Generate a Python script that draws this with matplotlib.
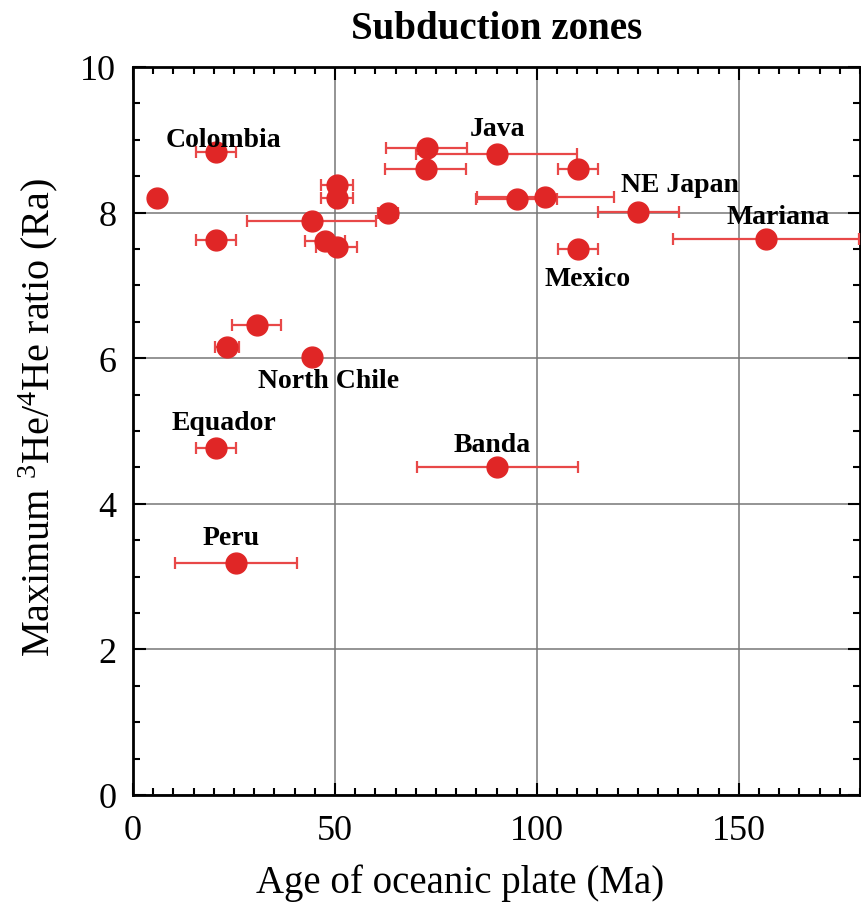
import matplotlib
matplotlib.use("Agg")
import matplotlib.pyplot as plt
from matplotlib.ticker import MultipleLocator

plt.rcParams["font.family"] = ["Liberation Serif", "DejaVu Serif"]
plt.rcParams["mathtext.fontset"] = "custom"
plt.rcParams["mathtext.rm"] = "Liberation Serif"
plt.rcParams["mathtext.it"] = "Liberation Serif:italic"

# plate age (Ma), its uncertainty, and max 3He/4He (Ra)
age = [5.9, 20.5, 20.5, 50.5, 50.5, 44.2, 47.5, 50.4, 63.1, 72.7, 72.5,
       90.0, 110.2, 95.0, 102.1, 125.1, 110.2, 156.8, 30.6, 23.3, 44.4,
       20.5, 90.2, 25.5]
age_err = [0, 5, 5, 4, 4, 16, 5, 5, 2.5, 10, 10,
           20, 5, 10, 17, 10, 5, 23, 6, 3, 0,
           5, 20, 15]
he_ratio = [8.20, 8.83, 7.62, 8.38, 8.20, 7.88, 7.61, 7.53, 8.00, 8.89, 8.60,
            8.80, 8.60, 8.19, 8.22, 8.01, 7.50, 7.64, 6.46, 6.15, 6.02,
            4.77, 4.50, 3.18]

zone_names = ["Colombia", "Java", "NE Japan", "Mariana", "Mexico",
              "North Chile", "Equador", "Banda", "Peru"]
zone_x = [22.3, 90.3, 135.4, 159.7, 112.6, 48.3, 22.5, 88.9, 24.3]
zone_y = [9.00, 9.15, 8.38, 7.94, 7.09, 5.69, 5.11, 4.81, 3.54]

fig = plt.figure(figsize=(8.62, 9.04), dpi=100)
ax = fig.add_axes([0.1543, 0.1195, 0.8434, 0.8053])

ax.errorbar(age, he_ratio, xerr=age_err, fmt="none", ecolor="#e84848",
            elinewidth=1.6, capsize=4, capthick=1.6, zorder=3)
ax.plot(age, he_ratio, "o", color="#e02626", markersize=15, zorder=4)

for name, x, y in zip(zone_names, zone_x, zone_y):
    ax.text(x, y, name, ha="center", va="center", fontsize=20,
            fontweight="bold", zorder=5)

ax.set_xlim(0, 180)
ax.set_ylim(0, 10)
ax.xaxis.set_major_locator(MultipleLocator(50))
ax.xaxis.set_minor_locator(MultipleLocator(5))
ax.yaxis.set_major_locator(MultipleLocator(2))
ax.yaxis.set_minor_locator(MultipleLocator(0.5))
ax.grid(True, which="major", color="#777777", linewidth=1.1)
ax.set_axisbelow(True)
ax.tick_params(which="both", direction="in", top=True, right=True,
               labelsize=26, width=1.5)
ax.tick_params(axis="x", pad=14)
ax.tick_params(axis="y", pad=12)
ax.tick_params(which="major", length=9)
ax.tick_params(which="minor", length=5)
for spine in ax.spines.values():
    spine.set_linewidth(2)

ax.set_xlabel("Age of oceanic plate (Ma)", fontsize=28)
ax.xaxis.set_label_coords(0.45, -0.094)
ax.set_ylabel(r"Maximum $^{3}$He/$^{4}$He ratio (Ra)", fontsize=29)
ax.yaxis.set_label_coords(-0.10, 0.52)
ax.set_title("Subduction zones", fontsize=28, fontweight="bold", pad=21)

fig.savefig("out.png", dpi=100)
